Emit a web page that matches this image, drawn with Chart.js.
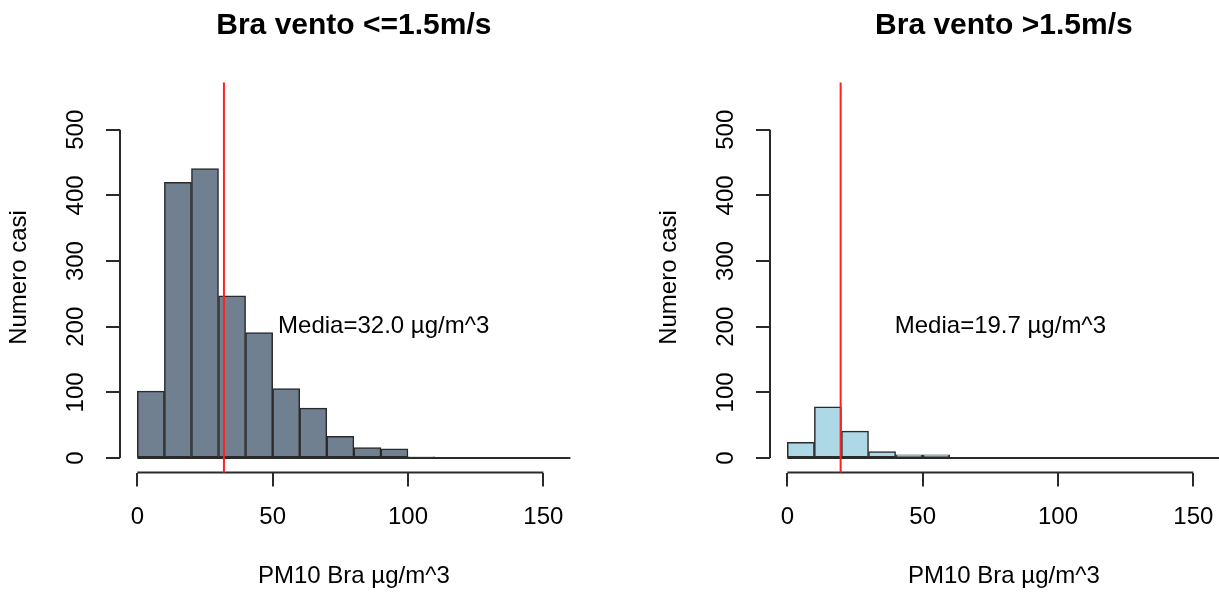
<!DOCTYPE html>
<html>
<head>
<meta charset="utf-8">
<script src="https://cdn.jsdelivr.net/npm/chart.js@4"></script>
<style>
  html, body { margin: 0; padding: 0; background: #fff; overflow: hidden; }
  .panel { position: absolute; top: 0; width: 650px; height: 592px; }
  #leftPanel { left: 0; }
  #rightPanel { left: 650px; }
</style>
</head>
<body>
<div class="panel" id="leftPanel"><canvas id="calmChart" width="650" height="592"></canvas></div>
<div class="panel" id="rightPanel"><canvas id="windyChart" width="650" height="592"></canvas></div>
<script>
// ---------- Data ----------
// histogram bins of PM10 (width 10, from 0 to 160), given by their mid points
const binMids = [5, 15, 25, 35, 45, 55, 65, 75, 85, 95, 105, 115, 125, 135, 145, 155];
const binStart = 0;
const binEnd = 160;

// wind <= 1.5 m/s
const calmCounts = [102, 420, 441, 247, 191, 106, 76, 33, 16, 14, 2, 0, 0, 0, 0, 0];
const calmMean = 32.0;

// wind > 1.5 m/s
const windyCounts = [24, 78, 41, 10, 5, 5, 0, 0, 0, 0, 0, 0, 0, 0, 0, 0];
const windyMean = 19.7;

const xTicks = [0, 50, 100, 150];
const yTicks = [0, 100, 200, 300, 400, 500];

const FONT = "'Liberation Sans', Arial, Helvetica, sans-serif";
const INK = "#2a2a2a";

// ---------- R-like axes, baseline and mean line ----------
const rStyle = {
  id: "rStyle",
  beforeDatasetsDraw(chart, args, opts) {
    const { ctx } = chart;
    const x = chart.scales.x, y = chart.scales.y;
    // empty bins still show as a flat line at zero
    ctx.save();
    ctx.strokeStyle = INK;
    ctx.lineWidth = 2;
    ctx.beginPath();
    ctx.moveTo(x.getPixelForValue(binStart), y.getPixelForValue(0));
    ctx.lineTo(x.getPixelForValue(binEnd), y.getPixelForValue(0));
    ctx.stroke();
    ctx.restore();
  },
  afterDatasetsDraw(chart, args, opts) {
    const { ctx, chartArea } = chart;
    const x = chart.scales.x, y = chart.scales.y;
    ctx.save();

    // axis lines only span the tick range
    ctx.strokeStyle = INK;
    ctx.lineWidth = 2;
    ctx.beginPath();
    ctx.moveTo(chartArea.left, y.getPixelForValue(yTicks[0]));
    ctx.lineTo(chartArea.left, y.getPixelForValue(yTicks[yTicks.length - 1]));
    ctx.moveTo(x.getPixelForValue(xTicks[0]), chartArea.bottom);
    ctx.lineTo(x.getPixelForValue(xTicks[xTicks.length - 1]), chartArea.bottom);
    ctx.stroke();

    // y tick labels, rotated like R does
    ctx.fillStyle = "#000";
    ctx.font = "24px " + FONT;
    ctx.textAlign = "center";
    ctx.textBaseline = "middle";
    y.ticks.forEach(t => {
      ctx.save();
      ctx.translate(chartArea.left - 44, y.getPixelForValue(t.value));
      ctx.rotate(-Math.PI / 2);
      ctx.fillText(String(t.value), 0, 0);
      ctx.restore();
    });

    // mean line
    const mx = x.getPixelForValue(opts.mean);
    ctx.strokeStyle = "#ff2020";
    ctx.lineWidth = 2;
    ctx.beginPath();
    ctx.moveTo(mx, chartArea.top);
    ctx.lineTo(mx, chartArea.bottom);
    ctx.stroke();

    // mean label
    ctx.textAlign = "left";
    ctx.fillText("Media=" + opts.mean.toFixed(1) + " µg/m^3", x.getPixelForValue(opts.mean + 20), y.getPixelForValue(200));
    ctx.restore();
  },
};

function makeHist(canvas, title, counts, fill, mean) {
  return new Chart(canvas, {
    type: "bar",
    data: {
      datasets: [
        {
          data: binMids.map((m, i) => ({ x: m, y: counts[i] })),
          backgroundColor: fill,
          borderColor: INK,
          borderWidth: 1.5,
          borderSkipped: false,
          barPercentage: 1,
          categoryPercentage: 1,
        },
      ],
    },
    options: {
      responsive: false,
      animation: false,
      layout: { padding: { left: 0, right: 62.3, top: 0, bottom: 0 } },
      plugins: {
        legend: { display: false },
        tooltip: { enabled: false },
        title: {
          display: true,
          text: title,
          color: "#000",
          fullSize: false,
          font: { family: FONT, size: 30, weight: "bold" },
          padding: { top: 7.5, bottom: 39 },
        },
        rStyle: { mean: mean },
      },
      scales: {
        x: {
          type: "linear",
          min: -6.4,
          max: 166.4,
          offset: false,
          border: { display: false },
          grid: { drawOnChartArea: false, drawTicks: true, tickLength: 14, color: INK, lineWidth: 2, offset: false },
          ticks: { color: "#000", padding: 16, maxRotation: 0, autoSkip: false, font: { family: FONT, size: 24 } },
          afterBuildTicks: s => { s.ticks = xTicks.map(v => ({ value: v })); },
          title: { display: true, text: "PM10 Bra µg/m^3", color: "#000", padding: { top: 0, bottom: 1 }, font: { family: FONT, size: 24 } },
          afterFit: s => { s.height = 119.5; },
        },
        y: {
          min: -22,
          max: 572,
          border: { display: false },
          grid: { drawOnChartArea: false, drawTicks: true, tickLength: 14, color: INK, lineWidth: 2 },
          ticks: { display: false },
          afterBuildTicks: s => { s.ticks = yTicks.map(v => ({ value: v })); },
          title: { display: true, text: "Numero casi", color: "#000", padding: { top: 4.6, bottom: 0 }, font: { family: FONT, size: 24 } },
          afterFit: s => { s.width = 120; },
        },
      },
    },
    plugins: [rStyle],
  });
}

makeHist(document.getElementById("calmChart"), "Bra vento <=1.5m/s", calmCounts, "#708090", calmMean);
makeHist(document.getElementById("windyChart"), "Bra vento >1.5m/s", windyCounts, "#ADD8E6", windyMean);
</script>
</body>
</html>
